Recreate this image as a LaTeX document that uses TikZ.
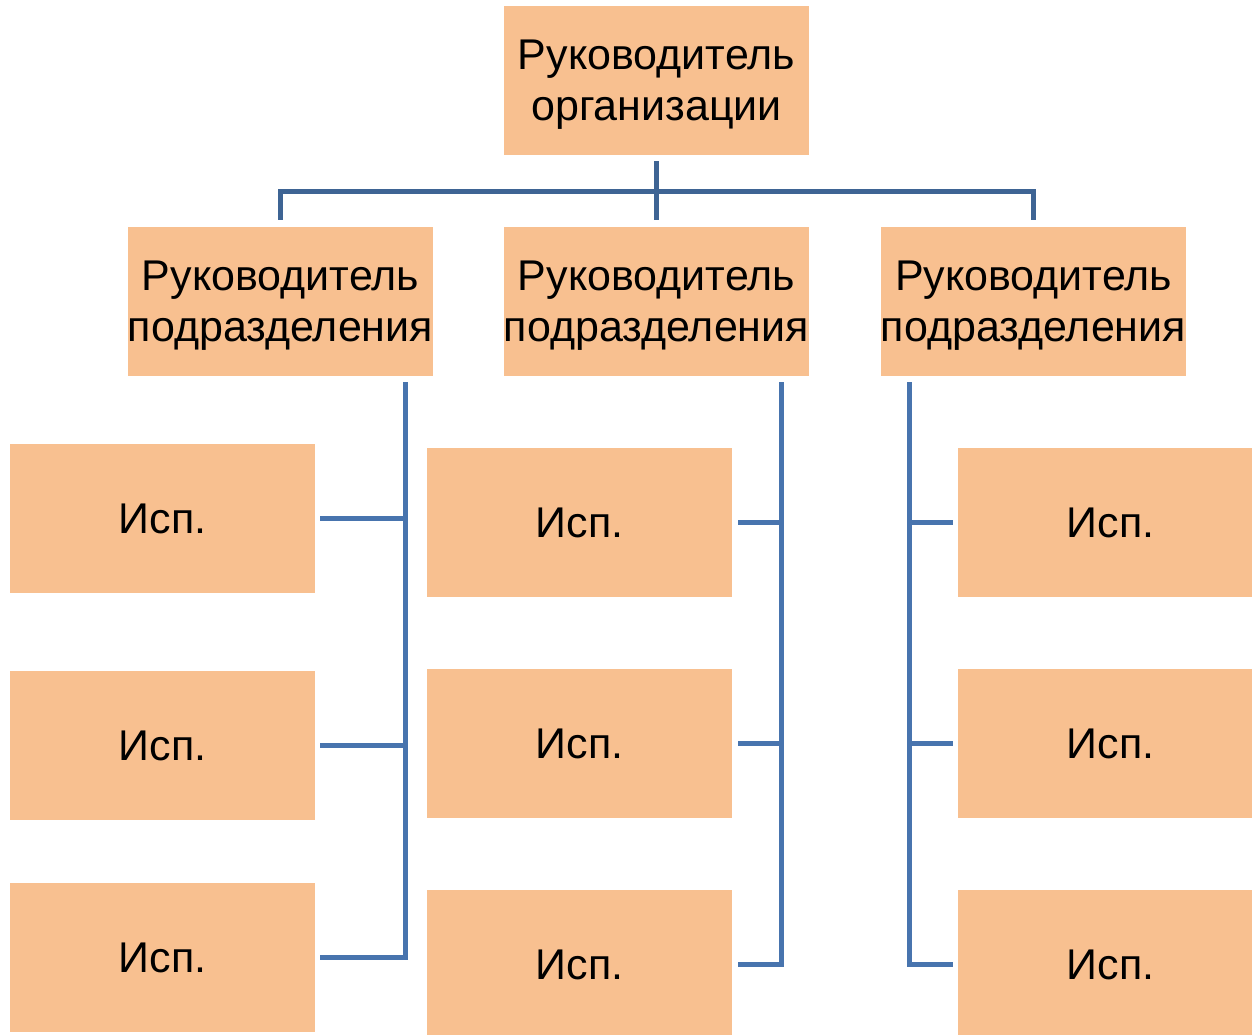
\documentclass[tikz,border=0pt]{standalone}
\usepackage{fontspec}
\setmainfont{Liberation Sans}
\usetikzlibrary{calc}
\definecolor{boxfill}{RGB}{248,192,144}
\definecolor{topline}{RGB}{62,100,148}
\definecolor{subline}{RGB}{72,116,174}
\tikzset{
  orgbox/.style={fill=boxfill, draw=none, inner sep=0pt, minimum width=305pt, minimum height=149pt, align=center, font=\fontsize{43}{51}\selectfont},
  twoline/.style={text depth=1pt},
  toplink/.style={draw=topline, line width=5pt},
  sublink/.style={draw=subline, line width=5pt}
}
\begin{document}
\begin{tikzpicture}[x=1pt,y=-1pt]
\useasboundingbox (0,0) rectangle (1252,1034);
\clip (0,0) rectangle (1252,1034);
% top
\node[orgbox, twoline] (top) at (656.5,80.5) {Руководитель\\организации};
% departments
\node[orgbox, twoline] (d1) at (280.5,301.5) {Руководитель\\подразделения};
\node[orgbox, twoline] (d2) at (656.5,301.5) {Руководитель\\подразделения};
\node[orgbox, twoline] (d3) at (1033.5,301.5) {Руководитель\\подразделения};
% executors
\node[orgbox] (e11) at (162.5,518.5) {Исп.};
\node[orgbox] (e12) at (162.5,745.5) {Исп.};
\node[orgbox] (e13) at (162.5,957.5) {Исп.};
\node[orgbox] (e21) at (579.5,522.5) {Исп.};
\node[orgbox] (e22) at (579.5,743.5) {Исп.};
\node[orgbox] (e23) at (579.5,964.5) {Исп.};
\node[orgbox] (e31) at (1110.5,522.5) {Исп.};
\node[orgbox] (e32) at (1110.5,743.5) {Исп.};
\node[orgbox] (e33) at (1110.5,964.5) {Исп.};
% top connectors
\coordinate (bus) at (656.5,191);
\draw[toplink] ([yshift=-6pt]top.south) -- ([yshift=7pt]d2.north);
\draw[toplink, line join=miter] ([yshift=7pt]d1.north) -- (d1.north |- bus) -- (d3.north |- bus) -- ([yshift=7pt]d3.north);
% spines
\coordinate (s1) at (405,382);
\coordinate (s2) at (781,382);
\coordinate (s3) at (909,382);
% column 1
\draw[sublink, line join=miter] (s1) -- (s1 |- e13.east) -- ([xshift=5pt]e13.east);
\draw[sublink] ([xshift=5pt]e11.east) -- (s1 |- e11.east);
\draw[sublink] ([xshift=5pt]e12.east) -- (s1 |- e12.east);
% column 2
\draw[sublink, line join=miter] (s2) -- (s2 |- e23.east) -- ([xshift=6pt]e23.east);
\draw[sublink] ([xshift=6pt]e21.east) -- (s2 |- e21.east);
\draw[sublink] ([xshift=6pt]e22.east) -- (s2 |- e22.east);
% column 3
\draw[sublink, line join=miter] (s3) -- (s3 |- e33.west) -- ([xshift=-5pt]e33.west);
\draw[sublink] ([xshift=-5pt]e31.west) -- (s3 |- e31.west);
\draw[sublink] ([xshift=-5pt]e32.west) -- (s3 |- e32.west);
\end{tikzpicture}
\end{document}
